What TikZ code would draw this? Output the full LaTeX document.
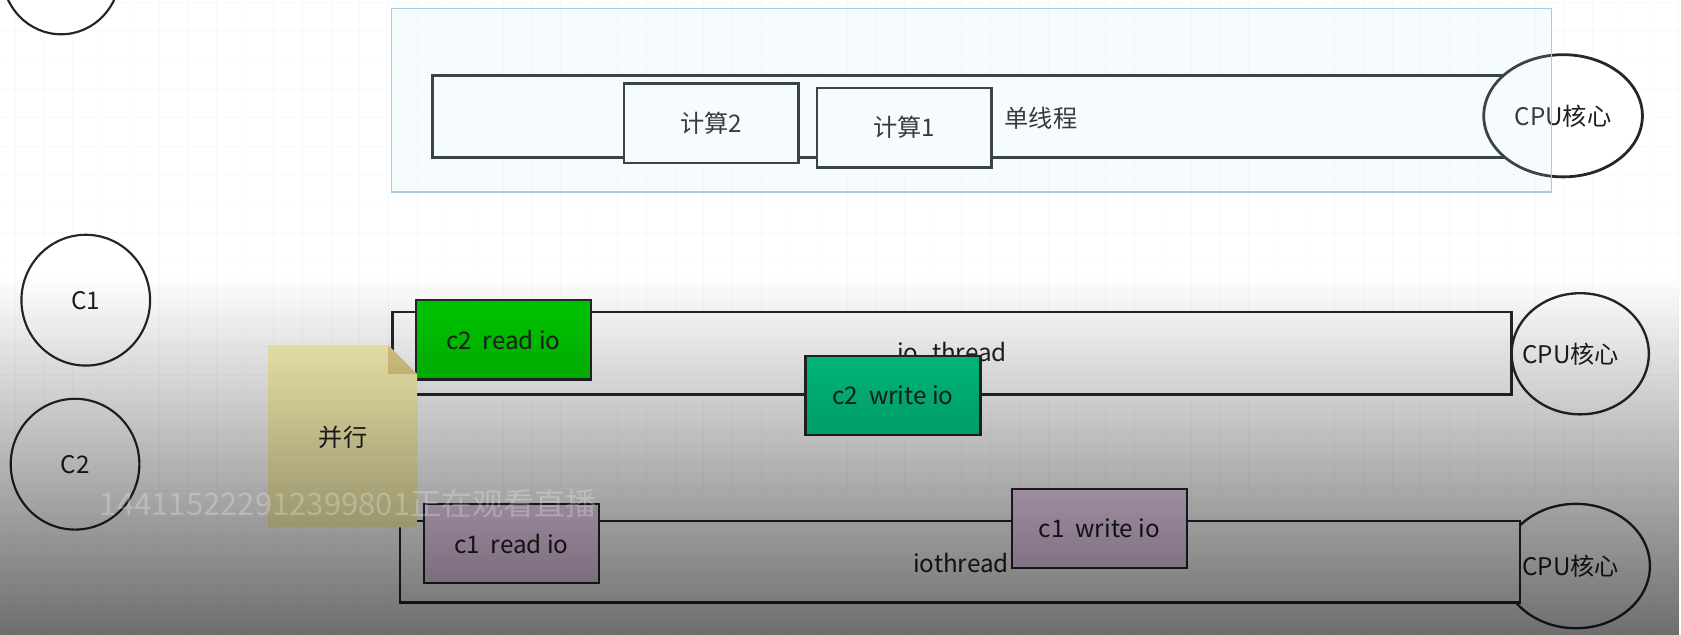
\documentclass[tikz,border=0pt]{standalone}
\usepackage{fontspec}
\setmainfont{Noto Sans CJK SC}
\usetikzlibrary{shapes.geometric, fadings, positioning}

\definecolor{lineC}{HTML}{23282C}
\definecolor{gridC}{HTML}{F8F9FA}
\definecolor{selFill}{HTML}{C4E8F8}
\definecolor{selLine}{HTML}{A9CBE2}
\definecolor{readGreen}{HTML}{00CC00}
\definecolor{writeGreen}{HTML}{00D08A}
\definecolor{ioPurple}{HTML}{F0D4F4}
\definecolor{noteYellow}{HTML}{FFF8B6}
\definecolor{noteFold}{HTML}{E6D28A}

\begin{document}
\begin{tikzpicture}[x=0.5pt, y=-0.5pt,
  every node/.style={font=\fontsize{11.3}{13}\selectfont, text=black!88},
  lane/.style={draw=lineC, line width=1.2pt, fill=white, inner sep=0pt},
  task/.style={draw=lineC, line width=1.1pt, minimum width=81.5pt, minimum height=37pt, inner sep=0pt},
  core/.style={ellipse, draw=lineC, line width=1.1pt, fill=white, inner sep=0pt},
  client/.style={ellipse, draw=black!85, line width=1pt, fill=white, minimum width=60pt, minimum height=61pt}]
  \useasboundingbox (0,0) rectangle (1568,592);
  % Background and grid
  \fill[white] (0,0) rectangle (1568,592);
  \foreach \gx in {14.5,41.25,...,1568} \draw[gridC, line width=0.4pt] (\gx,0) -- (\gx,592);
  \foreach \gy in {2.5,29.25,...,592} \draw[gridC, line width=0.4pt] (0,\gy) -- (1568,\gy);
  % Single thread
  \node[lane, line width=1.4pt, minimum width=503.5pt, minimum height=38.5pt] (single) at (906.5,108.5) {};
  \node[core, line width=1.3pt, minimum width=74pt, minimum height=57pt] (cpuA) at (1458,108) {CPU核心};
  \node[task, line width=1.3pt, fill=white] (calcB) at (663.5,115) {计算2};
  \node[task, line width=1.3pt, fill=white] (calcA) at (843.5,119) {计算1};
  \node[right] (singleLbl) at (930,110) {单线程};
  % Selection frame
  \fill[selFill, opacity=0.14] (365,8) rectangle (1447,179);
  \draw[selLine, line width=0.6pt] (365,8) rectangle (1447,179);
  % io thread of c2
  \node[core, minimum width=64pt, minimum height=56.5pt] (cpuB) at (1474,330) {};
  \node[lane, minimum width=522pt, minimum height=38.5pt] (ioB) at (888,329.5) {};
  \node (ioBLbl) at (888,330) {io\_thread};
  \node[right] (cpuBLbl) at (1413,330) {CPU核心};
  \node[task, fill=readGreen] (readB) at (469.5,317) {c2\ \ read io};
  \node[task, fill=writeGreen] (writeB) at (833,369) {c2\ \ write io};
  % io thread of c1
  \node[core, minimum width=69pt, minimum height=58pt] (cpuC) at (1470,528) {};
  \node[lane, minimum width=522.5pt, minimum height=38pt] (ioC) at (895.5,524) {};
  \node[left] (ioCLbl) at (948,525) {iothread};
  \node[right] (cpuCLbl) at (1413,528) {CPU核心};
  \node[task, fill=ioPurple] (readC) at (477,507) {c1\ \ read io};
  \node[task, fill=ioPurple] (writeC) at (1025.5,493) {c1\ \ write io};
  % Clients
  \node[client, minimum width=55pt, minimum height=57pt] (cX) at (57,-25) {};
  \node[client] (c1) at (80,280) {C1};
  \node[client] (c2) at (70,433) {C2};
  % Note
  \fill[noteYellow] (250,322) -- (362,322) -- (389,349) -- (389,492) -- (250,492) -- cycle;
  \fill[noteFold] (362,322) -- (362,349) -- (389,349) -- cycle;
  \node (par) at (320,408) {并行};
  % Dark overlay
  \fill[black, opacity=0.57, path fading=north] (0,258) rectangle (1568,592);
  \node[text=white, opacity=0.25, font=\fontsize{14.5}{16}\selectfont] (wm) at (325,470) {144115222912399801正在观看直播};
\end{tikzpicture}
\end{document}
